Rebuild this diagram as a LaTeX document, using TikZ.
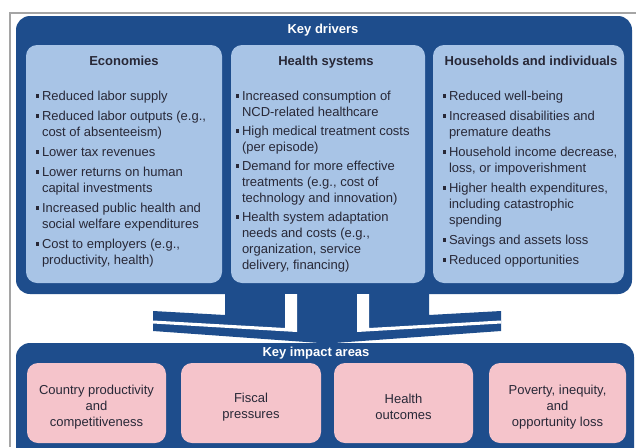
\documentclass[tikz,border=0pt]{standalone}
\usepackage{fontspec}
\setmainfont{Liberation Sans}
\definecolor{darkblue}{RGB}{30,77,140}
\definecolor{lightblue}{RGB}{168,196,230}
\definecolor{pinkfill}{RGB}{245,196,203}
\definecolor{bodytext}{RGB}{40,40,55}
\definecolor{framegray}{RGB}{165,165,165}
\newcommand{\blt}{\makebox[6pt][l]{\rule[0.22em]{3.2pt}{3.2pt}}}
\newcommand{\ind}{\hspace*{6pt}}
\newcommand{\lowr}{\rule{0pt}{17pt}}

\begin{document}
\begin{tikzpicture}
			[x=1pt,y=-1pt,
			every node/.style={inner sep=0pt,outer sep=0pt},
			outerbox/.style={fill=darkblue,rounded corners=14pt,anchor=north west},
			driverbox/.style={fill=lightblue,rounded corners=11pt,anchor=north west,minimum height=238pt},
			impactbox/.style={fill=pinkfill,rounded corners=11pt,anchor=north west,minimum height=80pt,
				align=center,text=bodytext,font=\fontsize{13}{16}\selectfont},
			headline/.style={text=white,font=\bfseries\fontsize{13}{16}\selectfont,text height=9.5pt,text depth=2.5pt},
			coltitle/.style={text=bodytext,font=\bfseries\fontsize{13}{16}\selectfont,text height=9.5pt,text depth=2.5pt},
			itemlist/.style={anchor=north west,align=left,text=bodytext,font=\fontsize{13}{16}\selectfont}]
			\fill[white] (0,0) rectangle (636,447);
			\clip (0,0) rectangle (636,447);
			\useasboundingbox (0,0) rectangle (636,447);
			\draw[framegray,line width=1.5pt] (636,13) -- (10,13) -- (10,447);
			% key drivers
			\node[outerbox,minimum width=616pt,minimum height=278pt] (drivers) at (16,16) {};
			\node[headline] (drivers title) at (323,30) {Key drivers};
			\node[driverbox,minimum width=196pt] (econ) at (26,45) {};
			\node[driverbox,minimum width=194pt] (health) at (231,45) {};
			\node[driverbox,minimum width=191pt] (house) at (433,45) {};
			\node[coltitle] (econ title) at (124,62) {Economies};
			\node[coltitle] (health title) at (326,62) {Health systems};
			\node[coltitle] (house title) at (531,62) {Households and individuals};
			\node[itemlist] (econ list) at (36,91) {
				\blt Reduced labor supply\\[4pt]
				\blt Reduced labor outputs (e.g.,\\
				\ind cost of absenteeism)\\[4pt]
				\blt Lower tax revenues\\[4pt]
				\blt Lower returns on human\\
				\ind capital investments\\[4pt]
				\blt Increased public health and\\
				\ind social welfare expenditures\\[4pt]
				\blt Cost to employers (e.g.,\\
				\ind productivity, health)};
			\node[itemlist] (health list) at (236,91) {
				\blt Increased consumption of\\
				\ind NCD-related healthcare\\[3pt]
				\blt High medical treatment costs\\
				\ind (per episode)\\[3pt]
				\blt Demand for more effective\\
				\ind treatments (e.g., cost of\\
				\ind technology and innovation)\\[3pt]
				\blt Health system adaptation\\
				\ind needs and costs (e.g.,\\
				\ind organization, service\\
				\ind delivery, financing)};
			\node[itemlist] (house list) at (443,91) {
				\blt Reduced well-being\\[4pt]
				\blt Increased disabilities and\\
				\ind premature deaths\\[4pt]
				\blt Household income decrease,\\
				\ind loss, or impoverishment\\[4pt]
				\blt Higher health expenditures,\\
				\ind including catastrophic\\
				\ind spending\\[4pt]
				\blt Savings and assets loss\\[4pt]
				\blt Reduced opportunities};
			% funnel between the two panels
			\fill[darkblue] (225,290) -- (225,315) -- (153,311) -- (153,331) -- (327,343.5)
				-- (501,331) -- (501,311) -- (429,315) -- (429,290) -- cycle;
			\fill[white] (285,294) -- (297,294) -- (297,332) -- (153,323.5) -- (153,320.5) -- (285,328) -- cycle;
			\fill[white] (369,294) -- (357,294) -- (357,332) -- (501,323.5) -- (501,320.5) -- (369,328) -- cycle;
			% key impact areas
			\node[outerbox,minimum width=618pt,minimum height=130pt] (impacts) at (16,343) {};
			\node[headline] (impacts title) at (316,353) {Key impact areas};
			\node[impactbox,minimum width=139pt] (country) at (27,363) {\lowr Country productivity\\and\\competitiveness};
			\node[impactbox,minimum width=140pt] (fiscal) at (181,363) {\lowr Fiscal\\pressures};
			\node[impactbox,minimum width=139pt] (outcomes) at (334,363) {\lowr Health\\outcomes};
			\node[impactbox,minimum width=137pt] (poverty) at (489,363) {\lowr Poverty, inequity,\\and\\opportunity loss};
		\end{tikzpicture}
\end{document}
